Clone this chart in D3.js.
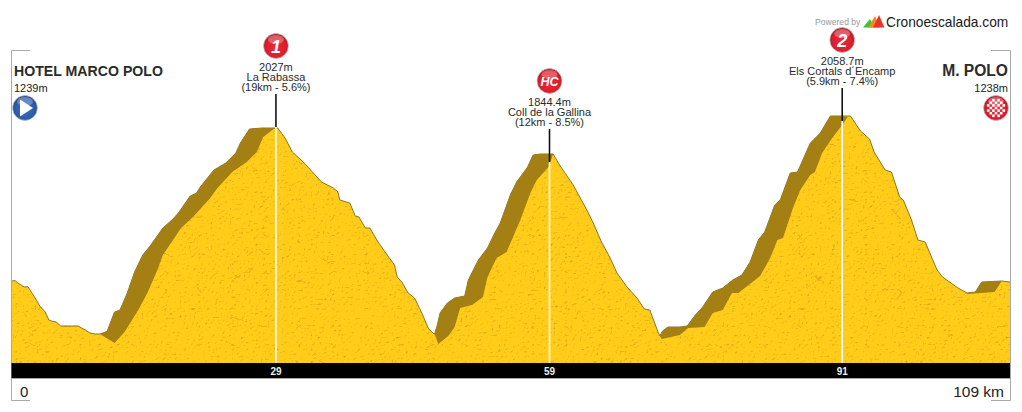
<!DOCTYPE html>
<html><head><meta charset="utf-8">
<script src="https://cdn.jsdelivr.net/npm/d3@7"></script>
<style>html,body{margin:0;padding:0;background:#fff}svg{display:block}text{font-family:"Liberation Sans",Arial,sans-serif}</style>
</head><body><div id="c"></div>
<script>
const profileKm=[0,.4,.7,1.4,1.8,2.1,2.6,3.1,3.7,4.1,4.4,4.9,5.4,6.4,7.3,8.1,8.6,9.2,9.7,10.3,10.5,11.3,11.9,12.7,13.5,14.4,15.2,16.6,17.6,18.3,19.6,20.3,20.7,22.2,23.5,24.6,25.1,26.1,27.5,28.9,29.2,30,30.8,32,33.5,34,35.3,35.8,36,37.1,37.7,38.1,38.8,39.3,40.2,41.2,42,42.3,42.8,43.5,44.2,45,45.7,46.2,46.4,46.7,47,47.8,48.6,49.7,50.1,51.2,52.2,53,53.6,54.7,55.4,56.6,57.2,58,59,59.4,60.1,61.6,63.1,63.8,64.7,65.6,66.4,67.5,68.6,69.4,70,70.9,71.1,71.4,72,73.3,74.1,75,75.8,76.9,78,79.1,80.1,81,81.9,82.6,83.7,84.3,85.4,86.2,87.6,88.7,89.8,91.2,92,93.1,94.1,94.6,95.8,96.5,97.4,97.8,98.7,99.4,100.2,101.5,102.1,103.8,104.8,105.7,106.4,108.6,109.5];
const profileEle=[1239,1241,1229,1209,1211,1189,1154,1114,1084,1044,1039,1034,1014,1014,1014,994,979,974,974,984,989,1084,1094,1179,1284,1369,1414,1504,1544,1579,1664,1679,1709,1794,1829,1879,1929,1999,2004,2004,2004,1954,1884,1834,1759,1734,1704,1684,1644,1629,1564,1559,1504,1504,1434,1369,1319,1259,1234,1179,1154,1079,1004,979,974,1019,1079,1129,1154,1164,1244,1344,1404,1479,1529,1669,1734,1809,1869,1874,1874,1874,1819,1719,1594,1529,1434,1359,1279,1209,1154,1099,1094,984,964,989,1009,1009,1014,1069,1109,1184,1204,1244,1269,1334,1444,1484,1619,1644,1779,1784,1929,1979,2064,2064,2064,1989,1949,1884,1794,1784,1659,1644,1544,1444,1434,1294,1259,1204,1179,1184,1234,1239,1234];

// lower edges of the four shaded climb bands
const band1Km=[9.7,11.3,12.4,13.9,14.9,16,16.6,18.6,19.9,21.8,22.5,24.2,25.8,26.9,27.6,28.9];
const band1Ele=[974,929,984,1094,1179,1294,1369,1504,1559,1654,1699,1784,1834,1884,1959,2004];
const band2Km=[46.4,46.8,47.9,48.6,49.2,50.5,51.7,52.2,53.2,54.3,55,55.8,56.9,57.6,58.9,59.4];
const band2Ele=[974,924,964,1009,1104,1119,1159,1259,1354,1384,1459,1544,1679,1744,1809,1874];
const band3Km=[71.1,71.3,73.3,74.2,76,76.9,78,79,79.7,82.1,83.2,84,84.6,85.7,86.5,87.6,88.1,88.9,90,91.1,91.7];
const band3Ele=[964,949,969,1004,1009,1079,1094,1179,1179,1264,1354,1444,1454,1604,1694,1769,1784,1879,1954,2019,2059];
const band4Km=[104.8,107.8,108.6];
const band4Ele=[1174,1184,1239];

const passKm=[29,59,91.1];
const passEle=[2009,1834,2039];
const passBadge=["1","HC","2"];
const passHeight=["2027m","1844.4m","2058.7m"];
const passName=["La Rabassa","Coll de la Gallina","Els Cortals d´Encamp"];
const passClimb=["(19km - 5.6%)","(12km - 8.5%)","(5.9km - 7.4%)"];
const tickLabels=["29","59","91"];

const W=1022,H=412;
const x=d3.scaleLinear().domain([0,109.5]).range([11.5,1010]);
const y=d3.scaleLinear().domain([829,2064]).range([363,116]);
const svg=d3.select("#c").append("svg").attr("width",W).attr("height",H);
const defs=svg.append("defs");

// rough painted surface
const f=defs.append("filter").attr("id","rough").attr("x",0).attr("y",0).attr("width",1).attr("height",1).attr("color-interpolation-filters","sRGB");
f.append("feTurbulence").attr("type","fractalNoise").attr("baseFrequency",.42).attr("numOctaves",2).attr("seed",4).attr("result","n");
f.append("feDiffuseLighting").attr("in","n").attr("surfaceScale",.8).attr("diffuseConstant",1.2).attr("lighting-color","#fff").attr("result","l")
 .append("feDistantLight").attr("azimuth",235).attr("elevation",62);
f.append("feTurbulence").attr("type","turbulence").attr("baseFrequency","0.03 0.055").attr("numOctaves",2).attr("seed",11).attr("result","v");
f.append("feColorMatrix").attr("in","v").attr("type","matrix").attr("values","0 0 0 0 .8  0 0 0 0 .6  0 0 0 0 .1  -14 0 0 0 .42").attr("result","veins");
f.append("feBlend").attr("in","SourceGraphic").attr("in2","l").attr("mode","multiply").attr("result","m");
f.append("feComposite").attr("in","veins").attr("in2","m").attr("operator","over").attr("result","t");
f.append("feComposite").attr("in","t").attr("in2","SourceAlpha").attr("operator","in");

function grad(id,c0,c1,c2){
  const g=defs.append("radialGradient").attr("id",id).attr("cx","50%").attr("cy","55%").attr("r","58%");
  g.append("stop").attr("offset","0%").attr("stop-color",c0);
  g.append("stop").attr("offset","72%").attr("stop-color",c1);
  g.append("stop").attr("offset","100%").attr("stop-color",c2);
}
grad("red","#ee2a3a","#d81e2c","#8f1118");
grad("blue","#3f6fc0","#2a5aa8","#173a78");
function badge(cx,cy,fill){
  svg.append("circle").attr("cx",cx).attr("cy",cy).attr("r",12.4).attr("fill",`url(#${fill})`).attr("stroke","#c4c4c4").attr("stroke-width",.7);
  svg.append("ellipse").attr("cx",cx).attr("cy",cy-6.5).attr("rx",8).attr("ry",4.6).attr("fill","#fff").attr("opacity",.28);
}

const pts=d3.range(profileKm.length).map(i=>[profileKm[i],profileEle[i]]);
const area=d3.area().x(d=>x(d[0])).y0(y.range()[0]).y1(d=>y(d[1]));
const line=d3.line().x(d=>x(d[0])).y(d=>y(d[1]));

svg.append("path").attr("d",area(pts)).attr("fill","#ffcd19").attr("filter","url(#rough)");
svg.append("path").attr("d",line(pts)).attr("fill","none").attr("stroke","#7a6414").attr("stroke-width",.9);

// shaded climbs
[[band1Km,band1Ele],[band2Km,band2Ele],[band3Km,band3Ele],[band4Km,band4Ele]].forEach(([k,e])=>{
  const lo=k.map((v,i)=>[v,e[i]]);
  const up=pts.filter(p=>p[0]>=k[0]&&p[0]<=k[k.length-1]);
  svg.append("path").attr("d",line(up.concat(lo.slice().reverse()))+"Z").attr("fill","#a37f14");
});

// frame
const fr=svg.append("g").attr("fill","none").attr("stroke","#a9a9a9").attr("stroke-width",1);
fr.append("path").attr("d","M30,50.5H11.5V400.5H30");
fr.append("path").attr("d","M991,50.5H1010.5V400.5H991");

// distance bar
const barTop=y.range()[0];
svg.append("rect").attr("x",x(0)).attr("y",barTop).attr("width",x(109.5)-x(0)).attr("height",15).attr("fill","#000");
svg.append("line").attr("x1",x(0)).attr("x2",x(109.5)).attr("y1",378.5).attr("y2",378.5).attr("stroke","#a9a9a9");

// passes
const g=svg.selectAll("g.pass").data(passKm).join("g").attr("class","pass");
g.append("line").attr("x1",d=>x(d)).attr("x2",d=>x(d)).attr("y1",(d,i)=>y(passEle[i])).attr("y2",barTop).attr("stroke","#fff").attr("stroke-width",1.6);
g.append("line").attr("x1",d=>x(d)).attr("x2",d=>x(d)).attr("y1",(d,i)=>y(passEle[i])-33).attr("y2",(d,i)=>y(passEle[i])).attr("stroke","#111").attr("stroke-width",1.6);
passKm.forEach((d,i)=>badge(x(d),y(passEle[i])-81,"red"));
svg.selectAll("text.bd").data(passKm).join("text").attr("class","bd").attr("x",d=>x(d)).attr("y",(d,i)=>y(passEle[i])-81+(i==1?4.5:6.5)).attr("text-anchor","middle")
 .attr("fill","#fff").attr("font-weight","bold").attr("font-style","italic").attr("font-size",(d,i)=>i==1?12.5:18).text((d,i)=>passBadge[i]);
const rows=[[passHeight,56],[passName,46],[passClimb,36]];
rows.forEach(([arr,off])=>{
  g.append("text").attr("x",d=>x(d)).attr("y",(d,i)=>y(passEle[i])-off).attr("text-anchor","middle")
   .attr("font-size",11).attr("fill","#2a2a2a").text((d,i)=>arr[i]);
});
svg.selectAll("text.tk").data(passKm).join("text").attr("class","tk").attr("x",d=>x(d)).attr("y",374.5)
 .attr("text-anchor","middle").attr("font-size",10).attr("font-weight","bold").attr("fill","#eee").text((d,i)=>tickLabels[i]);

// ends
const T=(t,xx,yy,s,o={})=>svg.append("text").attr("x",xx).attr("y",yy).attr("font-size",s).attr("fill",o.fill||"#222")
  .attr("text-anchor",o.a||"start").attr("font-weight",o.w||"normal").text(t);
T("HOTEL MARCO POLO",14,75.5,15.2,{w:"bold",fill:"#2b2b2b"}).attr("textLength",149).attr("lengthAdjust","spacingAndGlyphs");
T("1239m",14,92,11);
T("M. POLO",1008,75.5,15.6,{w:"bold",a:"end",fill:"#2b2b2b"});
T("1238m",1008,92,11,{a:"end"});
T("0",20,397,15);
T("109 km",1004,397,15.5,{a:"end"});

badge(25,108,"blue");
svg.append("path").attr("d","M20,99.5L33,108L20,116.5Z").attr("fill","#fff");
badge(996,108,"red");
const ck=svg.append("g").attr("fill","#fff");
for(let r=-3;r<=3;r++)for(let c=-3;c<=3;c++){
  if((r+c+12)%2==0&&r*r+c*c<=12) ck.append("rect").attr("x",996+c*2.6-1.3).attr("y",108+r*2.6-1.3).attr("width",2.6).attr("height",2.6);
}

// logo
T("Powered by",815,25,8.6,{fill:"#999"});
[["M863,27.5L870,19L875,27.5Z","#35c82a"],["M868,27.5L875,16L880,27.5Z","#f08a24"],["M873,27.5L879,15L884.5,27.5Z","#e8352a"]].forEach(([d,c])=>{
  svg.append("path").attr("d",d).attr("fill",c);
});
T("Cronoescalada.com",886,27,13.75,{fill:"#1a1a1a"});
</script></body></html>
